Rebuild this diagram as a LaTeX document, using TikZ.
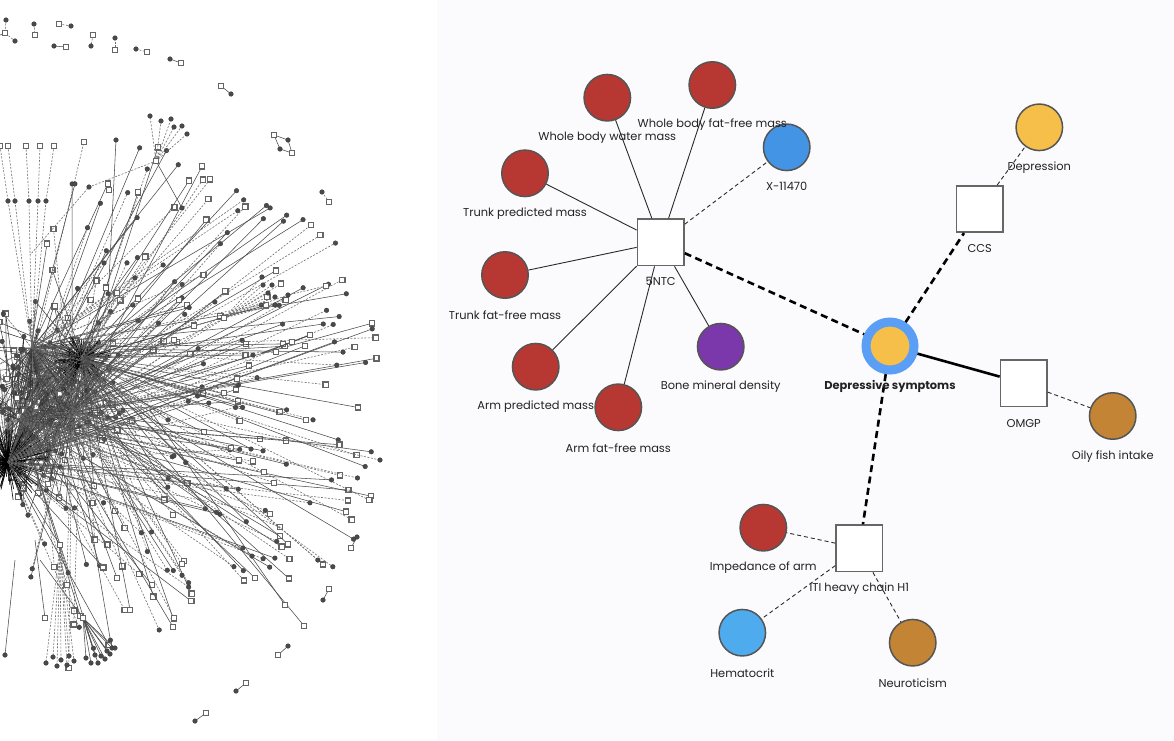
\documentclass[tikz,border=0pt]{standalone}
\usepackage{fontspec}
\setmainfont{Poppins}
\definecolor{rightbg}{HTML}{FBFBFD}
\definecolor{bord}{HTML}{555555}
\definecolor{sqb}{HTML}{666666}
\definecolor{labc}{HTML}{222222}
\definecolor{edg}{HTML}{2A2A2A}
\definecolor{cred}{HTML}{B73832}
\definecolor{cblue}{HTML}{4494E6}
\definecolor{cpurple}{HTML}{7B38AA}
\definecolor{cyellow}{HTML}{F5BF4A}
\definecolor{cring}{HTML}{5A9EF5}
\definecolor{cbrown}{HTML}{C48436}
\definecolor{clblue}{HTML}{4EABEE}
\definecolor{hb}{HTML}{4A4A4A}
\begin{document}
\begin{tikzpicture}[x=1pt,y=-1pt,
 big/.style={circle, draw=bord, line width=1.5pt, minimum size=46.5pt, inner sep=0pt},
 sq/.style={rectangle, draw=sqb, fill=white, line width=1.6pt, minimum size=46.5pt, inner sep=0pt},
 lab/.style={font=\fontsize{11.4}{13}\selectfont, text=labc, inner sep=0pt},
 thinsolid/.style={draw=edg, line width=0.9pt},
 thindash/.style={draw=edg, line width=0.9pt, dash pattern=on 4pt off 3pt},
 thicksolid/.style={draw=black, line width=2.6pt},
 thickdash/.style={draw=black, line width=2.6pt, dash pattern=on 7pt off 4.5pt},
 hsolid/.style={draw=hb, line width=0.55pt},
 hdash/.style={draw=hb!80, line width=0.6pt, dash pattern=on 2pt off 1.5pt},
 hcore/.style={draw=black!80, line width=0.5pt},
 hci/.style={circle, fill=hb, draw=hb!80!black, line width=0.4pt, minimum size=4.6pt, inner sep=0pt},
 hsq/.style={rectangle, fill=white, draw=hb!85, line width=1.3pt, minimum size=5.2pt, inner sep=0pt},
]
\useasboundingbox (0,0) rectangle (1174,740);
\fill[white] (0,0) rectangle (437,740);
\fill[rightbg] (437,0) rectangle (1174,740);

% ---------------- left: dense network ----------------
\begin{scope}
\clip (0,0) rectangle (437,740);
\coordinate (h0) at (82,358);
\coordinate (h1) at (8,462);
\coordinate (h2) at (72,412);
\coordinate (h3) at (32,348);
\coordinate (h4) at (20,420);
\pgfmathsetseed{11}
% dense core
\foreach \i in {1,...,220}{
  \pgfmathsetmacro{\ang}{rnd*360}
  \pgfmathsetmacro{\rad}{8+rnd*80}
  \pgfmathtruncatemacro{\h}{random(0,4)}
  \pgfmathtruncatemacro{\g}{random(0,4)}
  \pgfmathsetmacro{\ex}{45+\rad*cos(\ang)}
  \pgfmathsetmacro{\ey}{410+1.25*\rad*sin(\ang)}
  \pgfmathtruncatemacro{\d}{random(0,2)}
  \pgfmathtruncatemacro{\s}{random(0,2)}
  \ifnum\d=0 \def\st{hdash}\else\def\st{hcore}\fi
  \ifnum\s=0 \def\nd{hsq}\else\def\nd{hci}\fi
  \draw[\st] (h\h) -- (\ex,\ey) -- (h\g);
  \node[\nd] at (\ex,\ey) {};
}
% very short dense strokes around the two main hubs
\foreach \i in {1,...,140}{
  \pgfmathsetmacro{\ang}{rnd*360}
  \pgfmathsetmacro{\rad}{4+rnd*26}
  \pgfmathsetmacro{\ex}{82+\rad*cos(\ang)}
  \pgfmathsetmacro{\ey}{358+0.8*\rad*sin(\ang)}
  \draw[black, line width=0.6pt] (h0) -- (\ex,\ey);
  \pgfmathsetmacro{\fx}{10+1.3*\rad*cos(\ang)}
  \pgfmathsetmacro{\fy}{462+1.3*\rad*sin(\ang)}
  \draw[black, line width=0.6pt] (h1) -- (\fx,\fy);
}
% long spokes, mostly to the right
\foreach \i in {1,...,150}{
  \pgfmathsetmacro{\ang}{-45+rnd*85}
  \pgfmathsetmacro{\rad}{120+rnd*225}
  \pgfmathsetmacro{\ex}{40+\rad*cos(\ang)}
  \pgfmathsetmacro{\ey}{410+\rad*sin(\ang)}
  \pgfmathtruncatemacro{\h}{random(0,4)}
  \pgfmathtruncatemacro{\d}{random(0,1)}
  \pgfmathtruncatemacro{\s}{random(0,1)}
  \ifnum\d=1 \def\st{hdash}\else\def\st{hsolid}\fi
  \ifnum\s=1 \def\nd{hsq}\else\def\nd{hci}\fi
  \draw[\st] (h\h) -- (\ex,\ey);
  \node[\nd] at (\ex,\ey) {};
}
% upward spokes
\foreach \i in {1,...,45}{
  \pgfmathsetmacro{\ang}{-88+rnd*45}
  \pgfmathsetmacro{\rad}{110+rnd*180}
  \pgfmathsetmacro{\ex}{40+\rad*cos(\ang)}
  \pgfmathsetmacro{\ey}{400+\rad*sin(\ang)}
  \pgfmathtruncatemacro{\h}{random(0,4)}
  \pgfmathtruncatemacro{\d}{random(0,1)}
  \pgfmathtruncatemacro{\s}{random(0,1)}
  \ifnum\d=1 \def\st{hdash}\else\def\st{hsolid}\fi
  \ifnum\s=1 \def\nd{hsq}\else\def\nd{hci}\fi
  \draw[\st] (h\h) -- (\ex,\ey);
  \node[\nd] at (\ex,\ey) {};
}
% downward spokes
\foreach \i in {1,...,45}{
  \pgfmathsetmacro{\ang}{40+rnd*55}
  \pgfmathsetmacro{\rad}{90+rnd*150}
  \pgfmathsetmacro{\ex}{40+\rad*cos(\ang)}
  \pgfmathsetmacro{\ey}{430+\rad*sin(\ang)}
  \pgfmathtruncatemacro{\h}{random(0,4)}
  \pgfmathtruncatemacro{\d}{random(0,1)}
  \pgfmathtruncatemacro{\s}{random(0,1)}
  \ifnum\d=1 \def\st{hdash}\else\def\st{hsolid}\fi
  \ifnum\s=1 \def\nd{hsq}\else\def\nd{hci}\fi
  \draw[\st] (h\h) -- (\ex,\ey);
  \node[\nd] at (\ex,\ey) {};
}
% top-left dashed verticals
\foreach \a/\b in {26/29,40/38,54/46,0/8,8/15}{
  \draw[hdash] (\a,146) -- (\b,201) -- (h3);
  \node[hsq] at (\a,146) {};
  \node[hci] at (\b,201) {};
}
% top fan
\coordinate (tf) at (156,161);
\foreach \px/\py in {150/116,161/121,171/119,174/127,182/126,187/134}{
  \draw[hdash] (tf) -- (\px,\py);
  \node[hci] at (\px,\py) {};
}
\draw[hsolid] (tf) -- (182,208);
\draw[hdash] (tf) -- (89,187) -- (30,255);
\draw[hsolid] (116,140) -- (108,300);
\node[hci] at (116,140) {};
\node[hsq] at (109,190) {};
\node[hci] at (182,208) {};
\node[hci] at (89,187) {};
\node[hsq] at (tf) {};
% right fan
\coordinate (rf) at (224,318);
\foreach \px/\py in {262/277,263/285,272/285,268/293,275/297,275/305}{
  \draw[hdash] (rf) -- (\px,\py);
  \node[hci] at (\px,\py) {};
}
\draw[hdash] (rf) -- (288,295) -- (326,286);
\node[hci] at (288,295) {};
\node[hsq] at (326,286) {};
\draw[hsolid, line width=1pt] (262,353) -- (292,342) -- (310,335);
\node[hsq] at (292,342) {};
\node[hsq] at (310,335) {};
\draw[hsolid] (253,355) -- (180,380);
\node[hci] at (253,355) {};
\node[hsq] at (rf) {};
% bottom fans
\coordinate (bf) at (83,618);
\foreach \px/\py in {86/658,91/663,95/655,98/663,101/656,105/659,107/651,110/654,112/648,115/648}{
  \draw[hsolid] (bf) -- (\px,\py);
  \node[hci] at (\px,\py) {};
}
\draw[hsolid] (bf) -- (40,560);
\node[hsq] at (bf) {};
\coordinate (df) at (60,545);
\foreach \px/\py in {46/663,53/657,57/666,61/660,67/665,69/656,74/661}{
  \draw[hdash] (df) -- (\px,\py);
  \node[hci] at (\px,\py) {};
}
\draw[hsolid] (df) -- (h1);
\node[hsq] at (df) {};
\draw[hsolid] (15,560) -- (5,655);
\node[hci] at (5,655) {};
\draw[hsolid] (35,540) -- (45,618);
\node[hsq] at (45,618) {};
\draw[hsolid] (80,470) -- (173,627);
\node[hsq] at (173,627) {};
\draw[hsolid] (120,450) -- (255,578);
\node[hsq] at (255,578) {};
\draw[hsolid] (150,410) -- (285,605);
\node[hsq] at (285,605) {};
\draw[hdash] (200,420) -- (380,460);
\node[hci] at (380,460) {};
% isolated pairs
\draw[hdash] (6,20) -- (5,33) -- (15,41);
\draw[hsolid] (5,33) -- (-5,37);
\node[hci] at (6,20) {}; \node[hsq] at (5,33) {}; \node[hci] at (15,41) {};
\draw[hdash] (34,24) -- (35,35); \node[hci] at (34,24) {}; \node[hsq] at (35,35) {};
\draw[hdash] (59,24) -- (71,26); \node[hsq] at (59,24) {}; \node[hci] at (71,26) {};
\draw[hsolid] (54,46) -- (66,47); \node[hci] at (54,46) {}; \node[hsq] at (66,47) {};
\draw[hdash] (93,35) -- (91,46); \node[hsq] at (93,35) {}; \node[hci] at (91,46) {};
\draw[hdash] (115,38) -- (115,50); \node[hci] at (115,38) {}; \node[hsq] at (115,50) {};
\draw[hdash] (136,49) -- (147,52); \node[hci] at (136,49) {}; \node[hsq] at (147,52) {};
\draw[hsolid] (170,59) -- (181,63); \node[hci] at (170,59) {}; \node[hsq] at (181,63) {};
\draw[hsolid] (221,86) -- (231,94); \node[hsq] at (221,86) {}; \node[hci] at (231,94) {};
\draw[hsolid] (274,135) -- (288,140) -- (292,153) -- (280,149) -- cycle;
\node[hsq] at (274,135) {}; \node[hci] at (288,140) {}; \node[hci] at (280,149) {}; \node[hsq] at (292,153) {};
\draw[hdash] (322,192) -- (329,202); \node[hci] at (322,192) {}; \node[hsq] at (329,202) {};
\draw[hsolid] (357,537) -- (351,548); \node[hci] at (357,537) {}; \node[hsq] at (351,548) {};
\draw[hsolid] (329,589) -- (323,600); \node[hsq] at (329,589) {}; \node[hci] at (323,600) {};
\draw[hsolid] (288,646) -- (278,655); \node[hci] at (288,646) {}; \node[hsq] at (278,655) {};
\draw[hsolid] (246,683) -- (236,691); \node[hsq] at (246,683) {}; \node[hci] at (236,691) {};
\draw[hsolid] (206,713) -- (195,721); \node[hsq] at (206,713) {}; \node[hci] at (195,721) {};
\end{scope}

% ---------------- right: focused network ----------------
\node[sq] (ntc) at (660.7,242.3) {};
\node[sq] (ccs) at (979.7,209) {};
\node[sq] (omgp) at (1023.7,383.3) {};
\node[sq] (iti) at (859.3,548.3) {};
\node[big, fill=cred] (wbwm) at (607.3,97.7) {};
\node[big, fill=cred] (wbffm) at (712.3,85) {};
\node[big, fill=cblue] (x11) at (786.7,147.3) {};
\node[big, fill=cred] (tpm) at (525,173.3) {};
\node[big, fill=cred] (tffm) at (505,275) {};
\node[big, fill=cred] (apm) at (535.7,366.7) {};
\node[big, fill=cred] (affm) at (618.3,407.3) {};
\node[big, fill=cpurple] (bmd) at (720.7,346.7) {};
\node[big, fill=cyellow] (dep) at (1039.3,127.3) {};
\node[big, fill=cbrown] (oily) at (1112.7,416) {};
\node[big, fill=cred] (imp) at (763.3,527.7) {};
\node[big, fill=clblue] (hem) at (742.3,632.7) {};
\node[big, fill=cbrown] (neu) at (912.7,642.7) {};
\node[circle, draw=cring, line width=9pt, fill=cyellow, minimum size=48pt, inner sep=0pt] (ds) at (890,346) {};

% edges
\foreach \t in {wbwm,wbffm,tpm,tffm,apm,affm,bmd}{\draw[thinsolid] (ntc) -- (\t);}
\draw[thindash] (ntc) -- (x11);
\draw[thickdash] (ntc) -- (ds);
\draw[thickdash] (ds) -- (ccs);
\draw[thindash] (ccs) -- (dep);
\draw[thicksolid] (ds) -- (omgp);
\draw[thindash] (omgp) -- (oily);
\draw[thickdash] (ds) -- (iti);
\draw[thindash] (iti) -- (imp);
\draw[thindash] (iti) -- (hem);
\draw[thindash] (iti) -- (neu);

% labels
\node[lab] (l1) at (607.3,137.7) {Whole body water mass};
\node[lab] (l2) at (712.3,125) {Whole body fat-free mass};
\node[lab] (l3) at (786.7,186.7) {X-11470};
\node[lab] (l4) at (525,213.7) {Trunk predicted mass};
\node[lab] (l5) at (660.7,281.7) {5NTC};
\node[lab] (l6) at (505,315) {Trunk fat-free mass};
\node[lab] (l7) at (535.7,406.7) {Arm predicted mass};
\node[lab] (l8) at (618.3,447.7) {Arm fat-free mass};
\node[lab] (l9) at (720.7,386.7) {Bone mineral density};
\node[lab] (l10) at (1039.3,167.7) {Depression};
\node[lab] (l11) at (979.7,248.7) {CCS};
\node[lab, font=\fontsize{11.4}{13}\selectfont\bfseries] (l12) at (890,386) {Depressive symptoms};
\node[lab] (l13) at (1023.7,423.3) {OMGP};
\node[lab] (l14) at (1112.7,456.7) {Oily fish intake};
\node[lab] (l15) at (763.3,567.7) {Impedance of arm};
\node[lab] (l16) at (859.3,589) {ITI heavy chain H1};
\node[lab] (l17) at (742.3,672.7) {Hematocrit};
\node[lab] (l18) at (912.7,682.7) {Neuroticism};
\end{tikzpicture}
\end{document}
